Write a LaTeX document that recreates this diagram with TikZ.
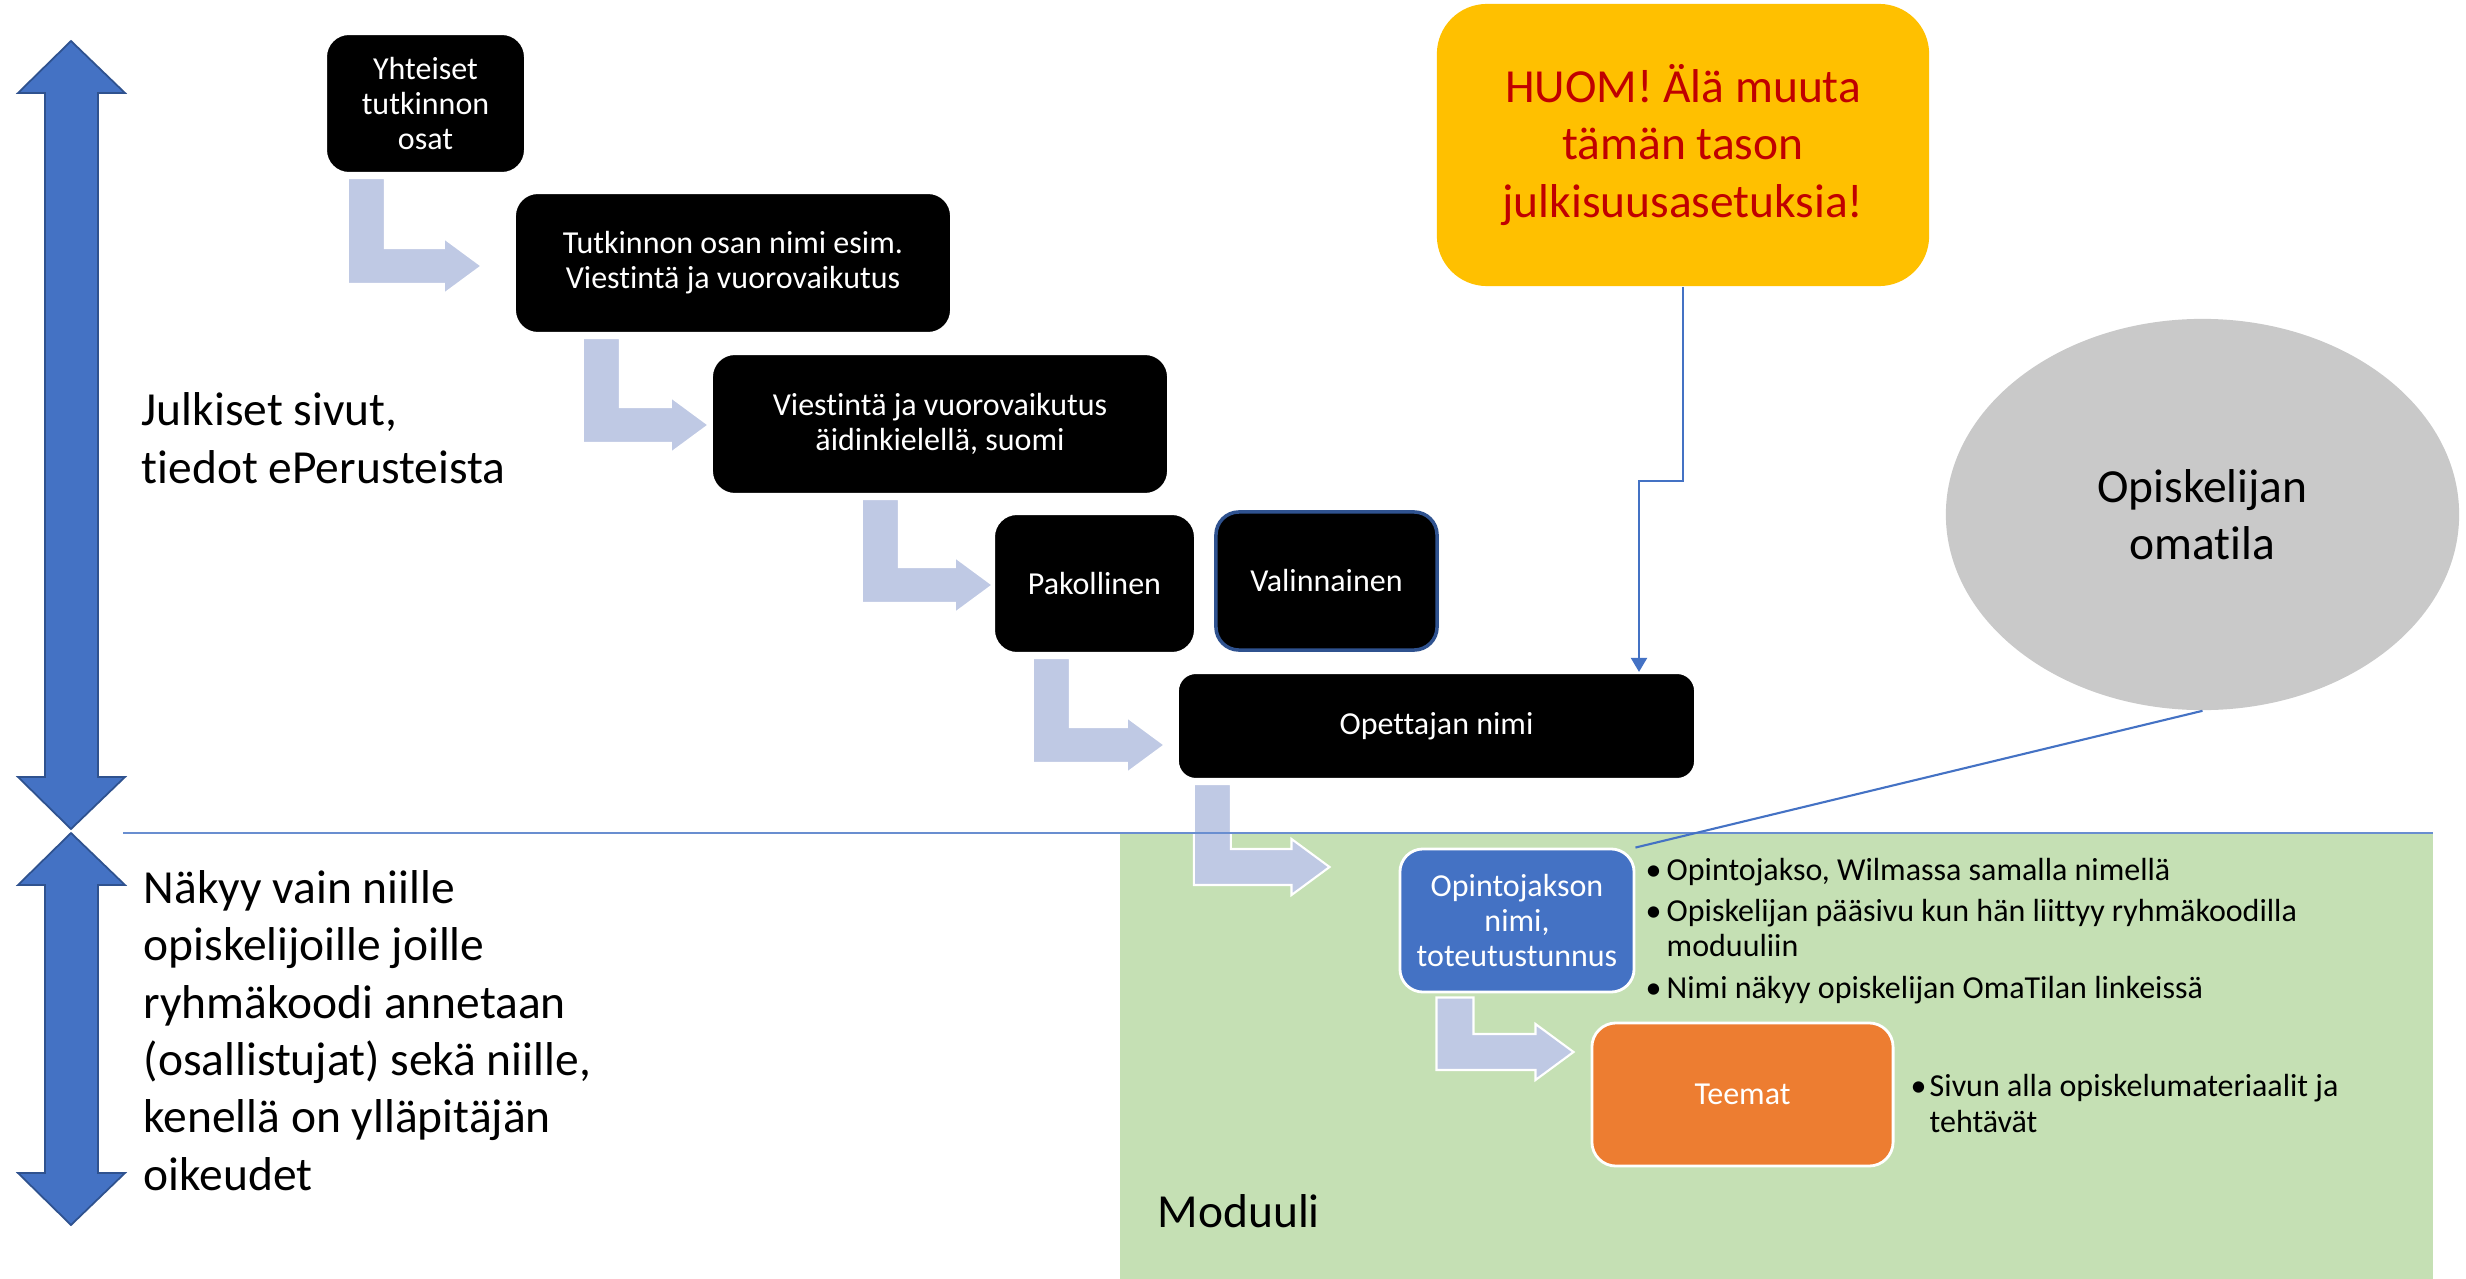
\documentclass[tikz,border=0pt]{standalone}
\usepackage{fontspec}
\setmainfont{Carlito}[Ligatures=NoCommon]
\usetikzlibrary{positioning}
\usetikzlibrary{arrows.meta}
\usetikzlibrary{shapes.geometric}
\usetikzlibrary{calc}

\definecolor{stepblue}{RGB}{191,201,228}
\definecolor{accblue}{RGB}{68,114,196}
\definecolor{darkblue}{RGB}{47,82,143}
\definecolor{modgreen}{RGB}{197,224,180}
\definecolor{teeorange}{RGB}{237,125,49}
\definecolor{huomyellow}{RGB}{255,192,0}
\definecolor{huomred}{RGB}{192,0,0}
\definecolor{omagray}{RGB}{201,201,201}

\tikzset{
  blackbox/.style={rectangle, rounded corners=0.23cm, fill=black, draw=white, line width=0.6pt,
    text=white, align=center, inner sep=0pt, font=\fontsize{9.1}{10}\selectfont},
  bigtext/.style={align=left, inner sep=0pt, font=\fontsize{13.5}{16.3}\selectfont},
  smalltext/.style={align=left, inner sep=0pt, font=\fontsize{9.1}{10}\selectfont},
  stepbent/.style={fill=stepblue, draw=white, line width=0.6pt},
  bigarrow/.style={fill=accblue, draw=darkblue, line width=0.5pt},
  conn/.style={draw=accblue, line width=0.6pt},
}

% bullet with fixed width
\newcommand{\bul}{\makebox[0.19cm][l]{\textbullet}}

% bent step arrow from shaft start #1 to tip #2
\newcommand{\stepdown}[2]{%
  \filldraw[stepbent] (#1) -- ($(#1)+(37,0)$) -- ($(#1 |- #2)+(37,-18)$) -- ($(#2)+(-38,-18)$)
    -- ($(#2)+(-38,-28)$) -- (#2) -- ($(#2)+(-38,28)$) -- ($(#2)+(-38,18)$)
    -- ($(#1 |- #2)+(0,18)$) -- cycle;}

\begin{document}
\begin{tikzpicture}[x=0.01cm, y=-0.01cm]
  \useasboundingbox (0,0) rectangle (2466,1279);

  % module area and divider
  \fill[modgreen] (1120,833) rectangle (2433,1279);
  \draw[conn, draw=accblue!80!white] (123,833) -- (2433,833);

  % big up/down arrows on the left
  \foreach \ya/\yb in {41/829, 833/1225} {
    \filldraw[bigarrow] (71,\ya) -- (125,\ya+52) -- (98,\ya+52) -- (98,\yb-52) -- (125,\yb-52)
      -- (71,\yb) -- (18,\yb-52) -- (45,\yb-52) -- (45,\ya+52) -- (18,\ya+52) -- cycle;
  }

  % step boxes
  \node[blackbox, minimum width=1.99cm, minimum height=1.39cm] (yht) at (425.5,103.5) {Yhteiset\\tutkinnon\\osat};
  \node[blackbox, minimum width=4.36cm, minimum height=1.40cm] (tosa) at (733,263) {Tutkinnon osan nimi esim.\\Viestintä ja vuorovaikutus};
  \node[blackbox, minimum width=4.56cm, minimum height=1.40cm] (vies) at (940,424) {Viestintä ja vuorovaikutus\\äidinkielellä, suomi};
  \node[blackbox, minimum width=2.01cm, minimum height=1.39cm] (pak) at (1094.5,583.5) {Pakollinen};
  \node[blackbox, draw=darkblue, line width=1pt, minimum width=2.21cm, minimum height=1.38cm] (val) at (1326.5,581) {Valinnainen};
  \node[blackbox, rounded corners=0.18cm, minimum width=5.17cm, minimum height=1.06cm] (ope) at (1436.5,726) {Opettajan nimi};
  \node[blackbox, fill=accblue, line width=0.8pt, minimum width=2.34cm, minimum height=1.43cm] (opj) at (1517,920.5) {Opintojakson\\nimi,\\toteutustunnus};
  \node[blackbox, fill=teeorange, rounded corners=0.24cm, line width=0.8pt, minimum width=3.01cm, minimum height=1.43cm] (tee) at (1742.5,1094.5) {Teemat};

  % bent arrows between the steps
  \foreach \a/\b/\sx/\tx/\ty in {yht/tosa/23/-32/3, tosa/vies/69/-2/1, vies/pak/151/0/1.5,
      pak/ope/40/-12/19, ope/opj/17/-69/-53.5, opj/tee/38/-17/-42.5} {
    \coordinate (s) at ($(\a.south west)+(\sx,4)$);
    \coordinate (t) at ($(\b.west)+(\tx,\ty)$);
    \stepdown{s}{t}
  }
  \draw[conn, draw=accblue!80!white] (1120,833) -- (1260,833);

  % note and student space
  \node[rectangle, rounded corners=0.5cm, fill=huomyellow, minimum width=4.92cm, minimum height=2.82cm,
    text=huomred, align=center, font=\fontsize{13.5}{16.3}\selectfont] (huom) at (1683,145)
    {HUOM! Älä muuta\\tämän tason\\julkisuusasetuksia!};
  \node[ellipse, fill=omagray, minimum width=5.13cm, minimum height=3.91cm, inner sep=0pt,
    align=center, font=\fontsize{13.5}{16.3}\selectfont] (oma) at (2202.5,514.5) {Opiskelijan\\omatila};

  \coordinate (bend) at (1639,481);
  \draw[conn, -{Triangle[width=0.16cm, length=0.14cm]}] (huom.south) |- (bend) -- (bend |- ope.north);
  \draw[conn] (oma.south) -- (opj.north east);

  % texts (base = last line)
  \node[bigtext, anchor=base west] (julk) at (141,483) {Julkiset sivut,\\tiedot ePerusteista};
  \node[bigtext, anchor=base west] (nak) at (143,1190) {Näkyy vain niille\\opiskelijoille joille\\ryhmäkoodi annetaan\\(osallistujat) sekä niille,\\kenellä on ylläpitäjän\\oikeudet};
  \node[bigtext, anchor=base west] (mod) at (1157,1227) {Moduuli};
  \node[smalltext, anchor=base west] (info) at (1645,998) {\bul\hspace{0.02cm}Opintojakso, Wilmassa samalla nimellä\\[1.7pt]
    \bul\hspace{0.02cm}Opiskelijan pääsivu kun hän liittyy ryhmäkoodilla\\ \hspace*{0.21cm}moduuliin\\[1.7pt]
    \bul\hspace{0.02cm}Nimi näkyy opiskelijan OmaTilan linkeissä};
  \node[smalltext, anchor=base west] (sivu) at (1910,1132) {\bul Sivun alla opiskelumateriaalit ja\\ \hspace*{0.19cm}tehtävät};
\end{tikzpicture}
\end{document}
